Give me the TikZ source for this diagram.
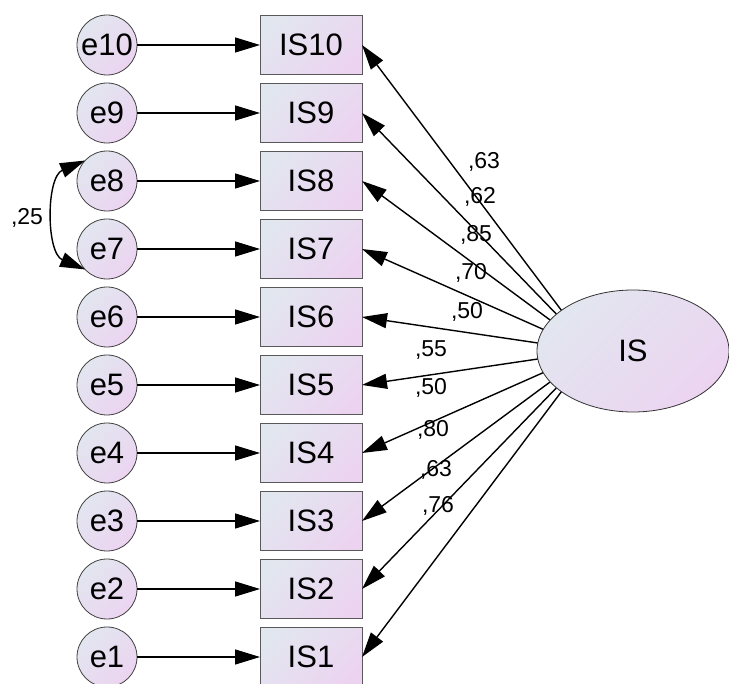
\documentclass[tikz,border=0pt]{standalone}
\usepackage{fontspec}
\setmainfont{Liberation Sans}
\usetikzlibrary{shapes.geometric, arrows.meta, positioning}
\definecolor{fillblue}{RGB}{226,230,239}
\definecolor{filllilac}{RGB}{236,212,241}
\tikzset{
  grad/.style={top color=fillblue, bottom color=filllilac, shading angle=45},
  err/.style={circle, draw=black!75, grad, minimum size=30pt, inner sep=0pt, outer sep=0pt, font=\fontsize{15.5}{18}\selectfont},
  indicator/.style={rectangle, draw=black!65, grad, minimum width=51pt, minimum height=29.5pt, inner sep=0pt, outer sep=0pt, font=\fontsize{15.5}{18}\selectfont},
  latent/.style={ellipse, draw=black!80, grad, minimum width=96pt, minimum height=61pt, inner sep=0pt, outer sep=0pt, font=\fontsize{15.5}{18}\selectfont},
  arrow/.style={-{Triangle[length=12.5pt, width=7.5pt]}, line width=0.7pt},
  load/.style={inner sep=0pt, font=\fontsize{11.5}{13}\selectfont},
}

\begin{document}
\begin{tikzpicture}
    \useasboundingbox (0pt,0pt) rectangle (364.5pt,-342pt);
    % error terms
    \node[err] at (53.5pt,-22.5pt) (e10) {e10};
    \node[err, below=4pt of e10] (e9) {e9};
    \node[err, below=4pt of e9] (e8) {e8};
    \node[err, below=4pt of e8] (e7) {e7};
    \node[err, below=4pt of e7] (e6) {e6};
    \node[err, below=4pt of e6] (e5) {e5};
    \node[err, below=4pt of e5] (e4) {e4};
    \node[err, below=4pt of e4] (e3) {e3};
    \node[err, below=4pt of e3] (e2) {e2};
    \node[err, below=4pt of e2] (e1) {e1};
    % items
    \node[indicator, right=61.5pt of e10] (IS10) {IS10};
    \node[indicator, right=61.5pt of e9] (IS9) {IS9};
    \node[indicator, right=61.5pt of e8] (IS8) {IS8};
    \node[indicator, right=61.5pt of e7] (IS7) {IS7};
    \node[indicator, right=61.5pt of e6] (IS6) {IS6};
    \node[indicator, right=61.5pt of e5] (IS5) {IS5};
    \node[indicator, right=61.5pt of e4] (IS4) {IS4};
    \node[indicator, right=61.5pt of e3] (IS3) {IS3};
    \node[indicator, right=61.5pt of e2] (IS2) {IS2};
    \node[indicator, right=61.5pt of e1] (IS1) {IS1};
    \draw[arrow] (e10) -- (IS10);
    \draw[arrow] (e9) -- (IS9);
    \draw[arrow] (e8) -- (IS8);
    \draw[arrow] (e7) -- (IS7);
    \draw[arrow] (e6) -- (IS6);
    \draw[arrow] (e5) -- (IS5);
    \draw[arrow] (e4) -- (IS4);
    \draw[arrow] (e3) -- (IS3);
    \draw[arrow] (e2) -- (IS2);
    \draw[arrow] (e1) -- (IS1);
    % loadings start inside the latent, which is drawn over them
    \coordinate (hub) at (296pt,-175.5pt);
    \draw[arrow] (hub) -- (IS10.east);
    \draw[arrow] (hub) -- (IS9.east);
    \draw[arrow] (hub) -- (IS8.east);
    \draw[arrow] (hub) -- (IS7.east);
    \draw[arrow] (hub) -- (IS6.east);
    \draw[arrow] (hub) -- (IS5.east);
    \draw[arrow] (hub) -- (IS4.east);
    \draw[arrow] (hub) -- (IS3.east);
    \draw[arrow] (hub) -- (IS2.east);
    \draw[arrow] (hub) -- (IS1.east);
    \node[latent] at (316.5pt,-175.5pt) (IS) {IS};
    % covariance
    \draw[{Triangle[length=12.5pt, width=7.5pt]}-{Triangle[length=12.5pt, width=7.5pt]}, line width=0.7pt]
      (e8.137) to[out=203, in=157] (e7.223);
    \node[load] at (13.5pt,-109pt) (c87) {,25};
    \node[load] at (242pt,-81pt) (l10) {,63};
    \node[load] at (240pt,-98.5pt) (l9) {,62};
    \node[load] at (238pt,-117.5pt) (l8) {,85};
    \node[load] at (235.5pt,-136.5pt) (l7) {,70};
    \node[load] at (233.5pt,-156pt) (l6) {,50};
    \node[load] at (215.5pt,-175pt) (l5) {,55};
    \node[load] at (215.5pt,-194pt) (l4) {,50};
    \node[load] at (216.5pt,-215pt) (l3) {,80};
    \node[load] at (218pt,-235pt) (l2) {,63};
    \node[load] at (219pt,-253pt) (l1) {,76};
  \end{tikzpicture}
\end{document}
